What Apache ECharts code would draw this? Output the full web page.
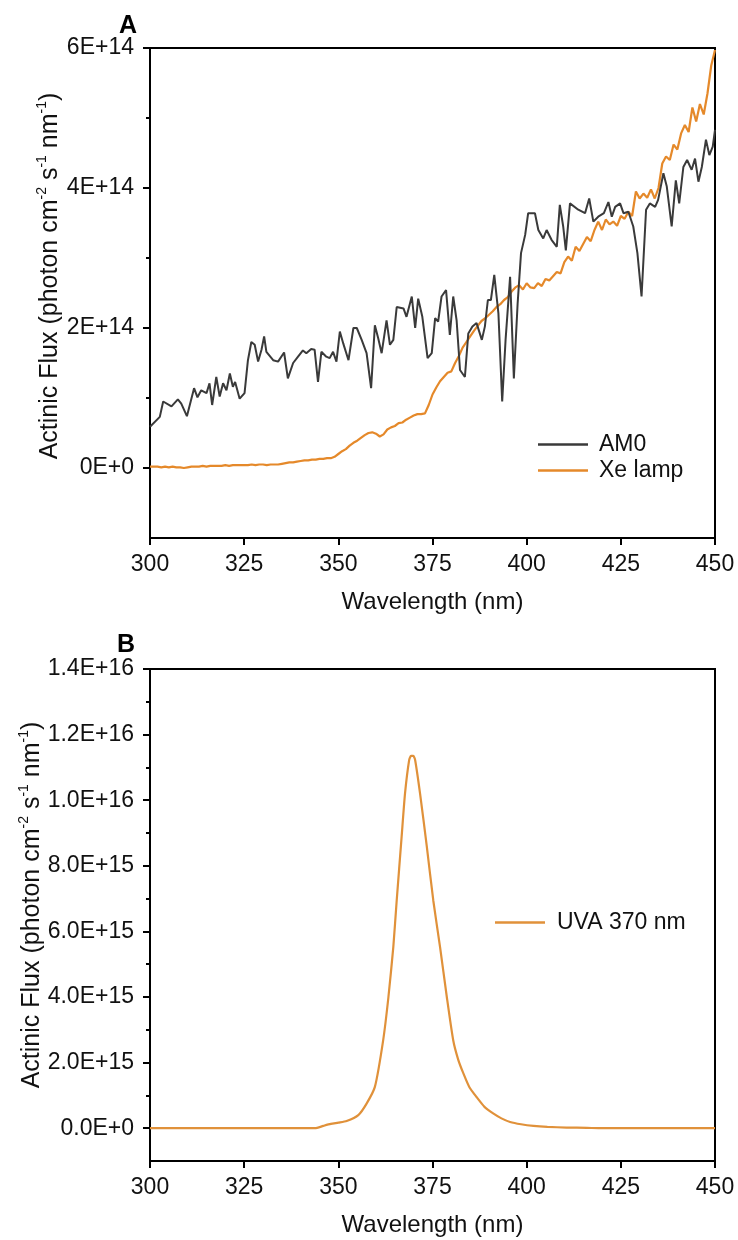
<!DOCTYPE html>
<html>
<head>
<meta charset="utf-8">
<script src="https://cdn.jsdelivr.net/npm/echarts@6/dist/echarts.min.js"></script>
<style>
html,body{margin:0;padding:0;background:#fff;}
#chart{width:738px;height:1240px;}
</style>
</head>
<body>
<div id="chart"></div>
<script>
// ---------- Panel A data (flux in units of 1E+14 photon cm-2 s-1 nm-1) ----------
const am0Wavelength = [300.0,302.6,303.5,305.7,307.4,308.3,309.8,311.7,312.6,313.6,315.0,315.8,316.5,317.6,318.5,319.4,320.3,321.2,322.0,322.6,323.8,325.1,326.0,326.9,327.8,328.7,329.6,330.3,330.9,332.7,334.0,335.6,336.6,338.0,339.3,340.6,341.5,342.8,343.7,344.6,345.5,346.8,347.7,348.6,349.5,350.4,351.3,352.7,354.0,354.9,356.2,357.5,358.7,359.7,360.6,361.5,362.8,363.7,364.6,365.5,367.3,368.1,369.5,370.4,371.2,372.3,373.7,374.8,375.7,376.5,377.4,378.6,379.6,380.5,381.4,382.3,383.6,384.5,385.6,386.7,388.1,388.9,389.7,390.5,391.4,392.5,393.5,394.4,395.6,396.6,397.6,398.5,399.6,400.4,402.2,403.1,404.4,405.3,406.6,408.0,408.8,409.7,410.4,411.5,413.7,415.5,416.6,417.7,419.0,420.5,421.7,422.6,423.5,424.8,425.7,427.0,428.3,429.4,430.5,431.7,432.7,434.1,434.9,436.3,437.2,438.5,439.6,440.5,441.6,442.6,443.8,444.7,445.6,446.5,447.6,448.5,449.4,450.0];
const am0Flux = [0.59,0.73,0.95,0.88,0.98,0.92,0.74,1.14,1.01,1.11,1.07,1.21,0.90,1.30,1.02,1.21,1.11,1.35,1.16,1.23,0.99,1.07,1.54,1.80,1.76,1.52,1.69,1.88,1.66,1.54,1.52,1.65,1.28,1.50,1.59,1.68,1.64,1.70,1.69,1.23,1.66,1.59,1.57,1.66,1.52,1.95,1.78,1.54,2.00,2.00,1.83,1.64,1.14,2.04,1.85,1.64,2.11,1.76,1.83,2.30,2.28,2.16,2.45,2.00,2.42,2.16,1.57,1.64,2.14,2.09,2.45,2.54,1.90,2.45,2.11,1.40,1.30,1.92,2.02,2.07,1.83,2.02,2.40,2.40,2.76,2.21,0.95,1.83,2.73,1.28,2.35,3.07,3.33,3.64,3.64,3.40,3.28,3.40,3.26,3.16,3.76,3.45,3.11,3.78,3.69,3.64,3.85,3.52,3.59,3.64,3.80,3.59,3.73,3.78,3.64,3.66,3.45,3.07,2.45,3.69,3.78,3.73,3.83,4.21,4.02,3.45,4.11,3.78,4.30,4.40,4.26,4.42,4.09,4.30,4.69,4.47,4.59,4.83];
// Xe lamp, one value per nm from 300 to 450
const xeStart = 300;
const xeFlux = [
0.02,0.02,0.02,0.01,0.02,0.01,0.02,0.01,0.01,0.00,
0.01,0.02,0.02,0.02,0.03,0.02,0.03,0.03,0.03,0.03,
0.04,0.03,0.04,0.04,0.04,0.04,0.04,0.05,0.04,0.05,
0.05,0.04,0.05,0.05,0.05,0.06,0.07,0.08,0.08,0.09,
0.10,0.11,0.11,0.12,0.12,0.13,0.13,0.14,0.14,0.16,
0.20,0.24,0.27,0.32,0.36,0.39,0.43,0.47,0.50,0.51,
0.49,0.45,0.48,0.55,0.58,0.60,0.64,0.65,0.69,0.72,
0.75,0.77,0.77,0.78,0.90,1.05,1.15,1.24,1.30,1.36,
1.38,1.50,1.60,1.72,1.80,1.88,1.96,2.03,2.10,2.14,
2.19,2.24,2.30,2.34,2.40,2.44,2.52,2.58,2.61,2.55,
2.64,2.58,2.57,2.64,2.60,2.70,2.68,2.74,2.80,2.78,
2.94,3.02,2.96,3.16,3.10,3.20,3.30,3.24,3.40,3.52,
3.40,3.55,3.48,3.52,3.46,3.60,3.56,3.66,3.60,3.95,
3.85,3.92,3.86,3.98,3.85,4.00,4.35,4.45,4.40,4.62,
4.55,4.78,4.90,4.80,5.15,4.95,5.20,5.05,5.35,5.75,
5.97];
const unitA = 1e14;
const aMajorTicks = [0, 2e14, 4e14, 6e14];
const aMinorTicks = [1e14, 3e14, 5e14];

// ---------- Panel B data (flux in units of 1E+15) ----------
const uvaWavelength = [300,310,320,330,340,343.8,346,348,350,352.2,355.3,357.5,359.7,361.9,363.3,364.6,365.5,366.8,367.7,368.8,369.3,369.9,370.4,371.7,373.5,375.2,377.0,378.8,380.5,381.8,383.2,384.8,386.7,388.8,391.1,393.3,395.6,398.5,401.8,405.5,410.6,416,420,430,440,450];
const uvaFlux = [0,0,0,0,0,0.0,0.07,0.13,0.17,0.22,0.40,0.75,1.26,2.68,4.0,5.53,6.95,8.88,10.2,11.22,11.35,11.35,11.22,10.2,8.58,6.95,5.53,4.0,2.68,2.10,1.67,1.25,0.95,0.65,0.45,0.30,0.19,0.12,0.07,0.04,0.02,0.01,0,0,0,0];
const unitB = 1e15;
const bMajorTicks = [0,2e15,4e15,6e15,8e15,1e16,1.2e16,1.4e16];
const bMinorTicks = [1e15,3e15,5e15,7e15,9e15,1.1e16,1.3e16];

const seriesNames = ['AM0', 'Xe lamp', 'UVA 370 nm'];
const colors = {am0: '#3a3a3a', xe: '#E5892A', uva: '#E0913A'};

// ---------- build ----------
const am0Data = am0Wavelength.map((w, i) => [w, am0Flux[i] * unitA]);
const xeData = xeFlux.map((v, i) => [xeStart + i, v * unitA]);
const uvaData = uvaWavelength.map((w, i) => [w, uvaFlux[i] * unitB]);

const FONT = 'Liberation Sans, Arial, sans-serif';
const FS = 23;
const NAME_FS = 24;
const yName = 'Actinic Flux (photon cm{sup|-2} s{sup|-1} nm{sup|-1})';

function xAxisOf(gi) {
  return {
    type: 'value', gridIndex: gi, min: 300, max: 450, interval: 25,
    name: 'Wavelength (nm)', nameLocation: 'middle', nameGap: 52, nameMoveOverlap: false,
    nameTextStyle: {fontFamily: FONT, fontSize: NAME_FS, color: '#111'},
    axisLine: {show: true, onZero: false, lineStyle: {color: '#000', width: 2}},
    axisTick: {show: true, inside: false, length: 7, lineStyle: {color: '#000', width: 2}},
    axisLabel: {fontFamily: FONT, fontSize: FS, color: '#111', margin: 15},
    splitLine: {show: false}
  };
}
function yMain(gi, min, max, interval, ticks, fmt, shift, gap) {
  return {
    type: 'value', gridIndex: gi, min: min, max: max, interval: interval, position: 'left',
    name: yName, nameLocation: 'middle', nameGap: gap, nameRotate: 90, nameMoveOverlap: false,
    nameTextStyle: {fontFamily: FONT, fontSize: 25, color: '#111', lineHeight: 30, padding: [0, 0, 0, shift],
      rich: {sup: {fontFamily: FONT, fontSize: 14, color: '#111', verticalAlign: 'top', lineHeight: 30}}},
    axisLine: {show: true, onZero: false, lineStyle: {color: '#000', width: 2}},
    axisTick: {show: true, inside: false, length: 7, customValues: ticks, lineStyle: {color: '#000', width: 2}},
    axisLabel: {fontFamily: FONT, fontSize: FS, color: '#111', margin: 16, customValues: ticks, formatter: fmt},
    splitLine: {show: false}
  };
}
function yMinor(gi, min, max, interval, ticks) {
  return {
    type: 'value', gridIndex: gi, min: min, max: max, interval: interval, position: 'left', offset: 0,
    axisLine: {show: false},
    axisTick: {show: true, inside: false, length: 4, customValues: ticks, lineStyle: {color: '#000', width: 2}},
    axisLabel: {show: false},
    splitLine: {show: false}
  };
}

const chart = echarts.init(document.getElementById('chart'), null, {renderer: 'canvas'});
chart.setOption({
  backgroundColor: '#fff',
  animation: false,
  title: [
    {text: 'A', left: 114, top: 9, textStyle: {fontFamily: FONT, fontSize: 25, fontWeight: 'bold', color: '#000'}},
    {text: 'B', left: 112, top: 628, textStyle: {fontFamily: FONT, fontSize: 25, fontWeight: 'bold', color: '#000'}}
  ],
  grid: [
    {left: 150, top: 48, width: 565, height: 490, show: true, borderColor: '#000', borderWidth: 2, backgroundColor: 'transparent'},
    {left: 150, top: 669, width: 565, height: 492, show: true, borderColor: '#000', borderWidth: 2, backgroundColor: 'transparent'}
  ],
  legend: [
    {data: [seriesNames[0], seriesNames[1]], orient: 'vertical', left: 533, top: 428, icon: 'rect', itemWidth: 50, itemHeight: 2.5, itemGap: 3,
     textStyle: {fontFamily: FONT, fontSize: FS, color: '#111', padding: [0,0,0,6]}},
    {data: [seriesNames[2]], orient: 'vertical', left: 490, top: 906, icon: 'rect', itemWidth: 50, itemHeight: 2.5,
     textStyle: {fontFamily: FONT, fontSize: FS, color: '#111', padding: [0,0,0,7]}}
  ],
  xAxis: [xAxisOf(0), xAxisOf(1)],
  yAxis: [
    yMain(0, -1e14, 6e14, 1e14, aMajorTicks, v => (v === 0 ? '0E+0' : v.toExponential(0).toUpperCase()), 34, 85),
    yMinor(0, -1e14, 6e14, 1e14, aMinorTicks),
    yMain(1, -1e15, 1.4e16, 1e15, bMajorTicks, v => v.toExponential(1).toUpperCase(), 20, 103),
    yMinor(1, -1e15, 1.4e16, 1e15, bMinorTicks)
  ],
  series: [
    {name: seriesNames[0], type: 'line', xAxisIndex: 0, yAxisIndex: 0, data: am0Data, symbol: 'none',
     lineStyle: {color: colors.am0, width: 2}, itemStyle: {color: colors.am0}, z: 3},
    {name: seriesNames[1], type: 'line', xAxisIndex: 0, yAxisIndex: 0, data: xeData, symbol: 'none',
     lineStyle: {color: colors.xe, width: 2.2}, itemStyle: {color: colors.xe}, z: 2},
    {name: seriesNames[2], type: 'line', xAxisIndex: 1, yAxisIndex: 2, data: uvaData, symbol: 'none', smooth: 0.2,
     lineStyle: {color: colors.uva, width: 2.2}, itemStyle: {color: colors.uva}}
  ]
});
</script>
</body>
</html>
